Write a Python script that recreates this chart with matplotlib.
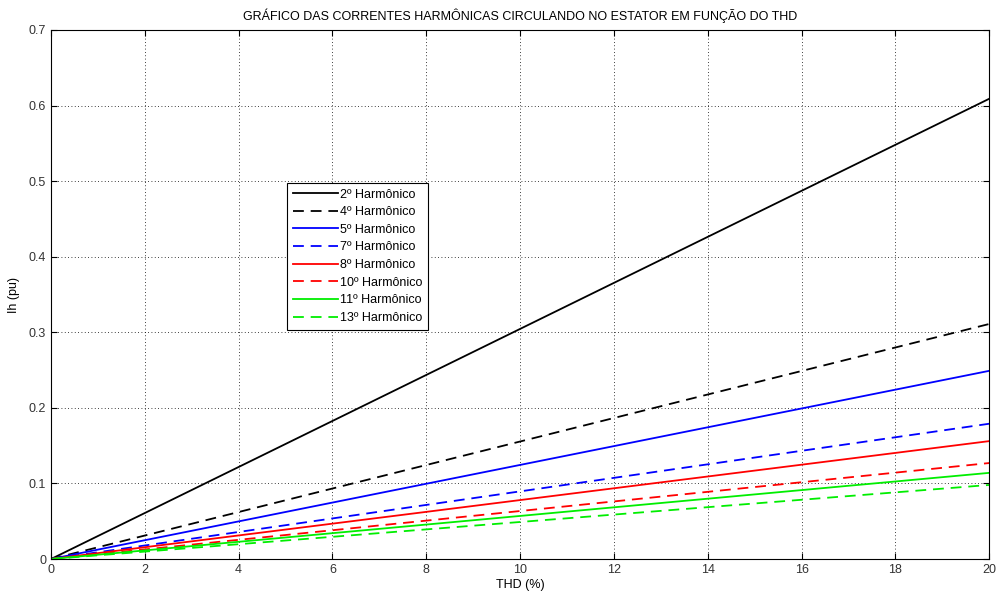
import matplotlib
matplotlib.use("Agg")
import matplotlib.pyplot as plt

plt.rcParams['font.family'] = ['Liberation Sans', 'DejaVu Sans']

thd = [0, 20]
h2 = [0, 0.609]
h4 = [0, 0.311]
h5 = [0, 0.249]
h7 = [0, 0.179]
h8 = [0, 0.156]
h10 = [0, 0.127]
h11 = [0, 0.114]
h13 = [0, 0.098]

labels = ["2º Harmônico", "4º Harmônico", "5º Harmônico", "7º Harmônico",
          "8º Harmônico", "10º Harmônico", "11º Harmônico", "13º Harmônico"]
series = [h2, h4, h5, h7, h8, h10, h11, h13]
colors = ["black", "black", "blue", "blue", "red", "red", "#00ee00", "#00ee00"]
dash = (0, (6, 3.8))
styles = ["-", dash, "-", dash, "-", dash, "-", dash]

fig = plt.figure(figsize=(9.97, 5.94), dpi=100)
ax = fig.add_axes([0.0512, 0.0589, 0.941, 0.8906])

for s, lab, c, ls in zip(series, labels, colors, styles):
    ax.plot(thd, s, color=c, linestyle=ls, lw=1.3, label=lab)

ax.set_xlim(0, 20)
ax.set_ylim(0, 0.7)
ax.set_xticks(range(0, 21, 2))
ax.set_yticks([0, 0.1, 0.2, 0.3, 0.4, 0.5, 0.6, 0.7])
ax.set_yticklabels(["0", "0.1", "0.2", "0.3", "0.4", "0.5", "0.6", "0.7"])
ax.grid(True, color="black", linestyle=(0, (1, 3)), linewidth=0.6)
ax.tick_params(direction="in", labelsize=9, colors="black", labelcolor="#333333", length=4)
ax.tick_params(top=True, right=True)
for sp in ax.spines.values():
    sp.set_linewidth(0.8)
ax.set_xlabel("THD (%)", fontsize=9, labelpad=2)
ax.set_ylabel("Ih (pu)", fontsize=9, labelpad=6)
ax.set_title("GRÁFICO DAS CORRENTES HARMÔNICAS CIRCULANDO NO ESTATOR EM FUNÇÃO DO THD",
             fontsize=9, pad=7)

leg = ax.legend(loc="upper left", bbox_to_anchor=(0.2516, 0.711), fontsize=9,
                frameon=True, fancybox=False, edgecolor="black", framealpha=1,
                handlelength=3.6, handletextpad=0.15, labelspacing=0.45, borderpad=0.45,
                borderaxespad=0)
leg.get_frame().set_linewidth(0.8)

fig.savefig("out.png", dpi=100)
